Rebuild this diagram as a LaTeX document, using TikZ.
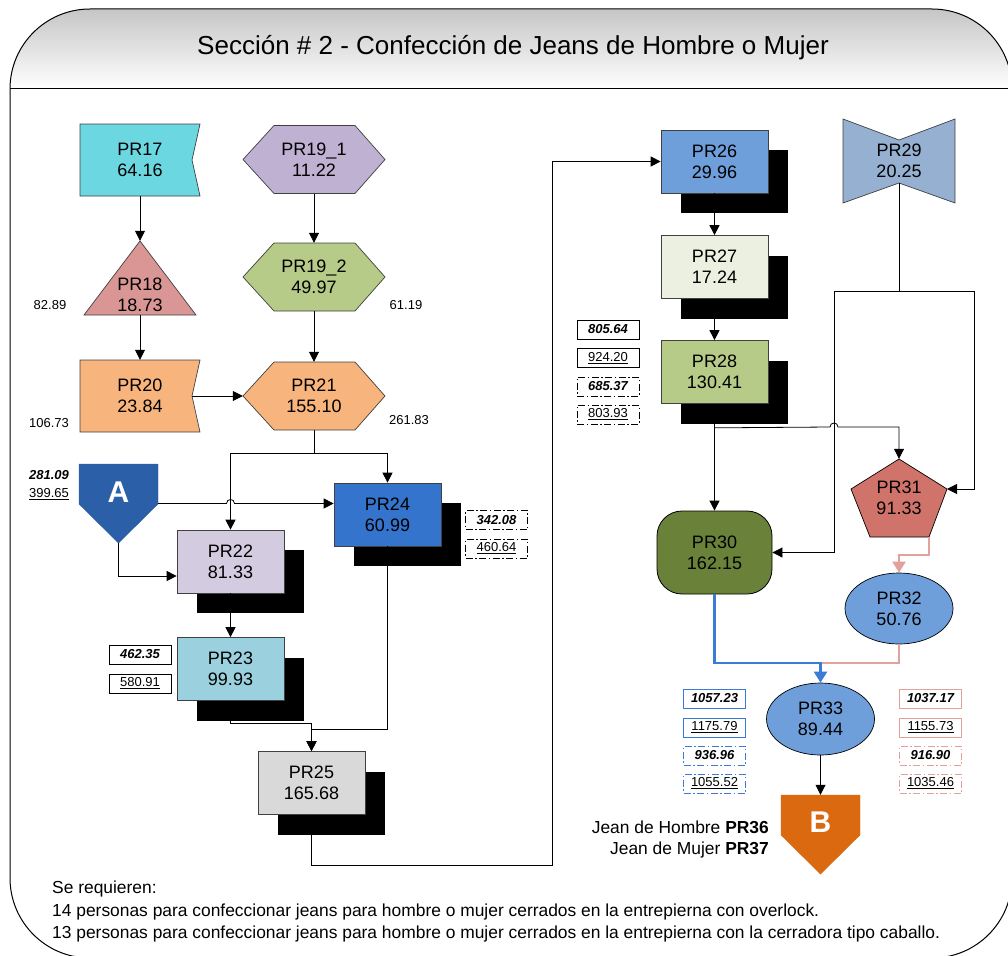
\documentclass[tikz,border=0pt]{standalone}
\usepackage{fontspec}
\setmainfont{Liberation Sans}
\usetikzlibrary{arrows.meta,calc,shapes.geometric,shadows}
\definecolor{c17}{HTML}{6BD7E0}
\definecolor{c19a}{HTML}{BFB1D1}
\definecolor{c18}{HTML}{D99694}
\definecolor{c19b}{HTML}{B6CB87}
\definecolor{c20}{HTML}{F8B47D}
\definecolor{cA}{HTML}{2B5FA8}
\definecolor{c22}{HTML}{D3CCE1}
\definecolor{c23}{HTML}{9BD1DF}
\definecolor{c24}{HTML}{3474CC}
\definecolor{c25}{HTML}{D9D9D9}
\definecolor{c26}{HTML}{6E9FDA}
\definecolor{c27}{HTML}{EBF0E0}
\definecolor{c29}{HTML}{96B0D1}
\definecolor{c30}{HTML}{6A8139}
\definecolor{c31}{HTML}{D0736B}
\definecolor{c32}{HTML}{6F9FDA}
\definecolor{cB}{HTML}{DA690F}
\definecolor{pinkl}{HTML}{E3A09D}
\definecolor{bluel}{HTML}{3A7BD5}
\definecolor{edge}{HTML}{404040}
\newcommand{\hexshape}[3]{\filldraw[shp,fill=#3] (#1,#2) ++(-71,0) -- ++(31,-34) -- ++(81,0) -- ++(30,34) -- ++(-30,34) -- ++(-81,0) -- cycle;}
\newcommand{\flagshape}[3]{\filldraw[shp,fill=#3] (#1,#2) ++(-60,-36) -- ++(120,0) -- ++(-8,36) -- ++(8,36) -- ++(-120,0) -- cycle;}
\begin{document}
\begin{tikzpicture}[x=1pt,y=-1pt,
  shp/.style={draw=edge,line width=0.7pt},
  txt/.style={font=\fontsize{18}{21}\selectfont,align=center,inner sep=0pt},
  sq/.style={txt,draw=edge,line width=0.7pt,minimum width=107pt,minimum height=63pt,
    general shadow={fill=black,shadow xshift=20pt,shadow yshift=-20pt}},
  conn/.style={line width=0.8pt,-{Triangle[length=10pt,width=10pt]}},
  plain/.style={line width=0.8pt},
  num/.style={font=\fontsize{13}{15}\selectfont,inner sep=0pt},
  bx/.style={draw,line width=1pt,minimum width=62pt,minimum height=19pt,inner sep=0pt,font=\fontsize{13}{15}\selectfont},
  dd/.style={dash pattern=on 7pt off 2.5pt on 1.5pt off 2.5pt},
  bi/.style={font=\fontsize{13}{15}\selectfont\bfseries\itshape},
  big/.style={font=\fontsize{30}{34}\selectfont\bfseries,text=white,inner sep=0pt},
  foot/.style={anchor=base west,inner sep=0pt,font=\fontsize{17.4}{20}\selectfont}
]
\useasboundingbox (0,0) rectangle (1008,955);
\clip (0,0) rectangle (1008,955);
% frame
\begin{scope}
\clip[rounded corners=80pt] (10,9) rectangle (1012,958);
\shade[top color=gray!50,bottom color=white] (0,0) rectangle (1012,89);
\end{scope}
\draw[line width=1pt,rounded corners=80pt] (10,9) rectangle (1012,958);
\draw[line width=1pt] (10,89) -- (1012,89);
\node[font=\fontsize{26}{30}\selectfont] (title) at (513,48) {Sección \# 2 - Confección de Jeans de Hombre o Mujer};

% left column shapes
\flagshape{140}{160}{c17}
\node[txt,minimum width=120pt,minimum height=72pt] (pr17) at (140,160) {PR17\\64.16};
\filldraw[shp,fill=c18] (140,241) -- (196,315) -- (84,315) -- cycle;
\node[minimum width=112pt,minimum height=74pt,inner sep=0pt,label={[txt,yshift=-17pt]center:{PR18\\18.73}}] (pr18) at (140,278) {};
\flagshape{140}{396}{c20}
\node[txt,minimum width=120pt,minimum height=72pt] (pr20) at (140,396) {PR20\\23.84};
\hexshape{314}{159.5}{c19a}
\node[txt,minimum width=142pt,minimum height=68pt] (pr191) at (314,159.5) {PR19\_1\\11.22};
\hexshape{314}{277}{c19b}
\node[txt,minimum width=142pt,minimum height=68pt] (pr192) at (314,277) {PR19\_2\\49.97};
\hexshape{314}{396}{c20}
\node[txt,minimum width=142pt,minimum height=68pt] (pr21) at (314,396) {PR21\\155.10};

\node[num] (n8289) at (50,305) {82.89};
\node[num] (n6119) at (406,305) {61.19};
\node[num] (n10673) at (49,423) {106.73};
\node[num] (n26183) at (409,420) {261.83};

% A
\filldraw[fill=cA,draw=cA] (79,464) -- (158,464) -- (158,504) -- (118.5,543) -- (79,504) -- cycle;
\node[minimum width=79pt,minimum height=79pt,inner sep=0pt,label={[big,yshift=11pt]center:A}] (a) at (118.5,503.5) {};
\node[bi,inner sep=0pt] (n28109) at (49,475) {281.09};
\node[num] (n39965) at (49,494) {\underline{399.65}};

% boxes with shadow
\node[sq,fill=c22] (pr22) at (230.5,561.5) {PR22\\81.33};
\node[sq,fill=c23] (pr23) at (230.5,669) {PR23\\99.93};
\node[sq,fill=c24] (pr24) at (387.5,514.5) {PR24\\60.99};
\node[sq,fill=c25] (pr25) at (311.5,783) {PR25\\165.68};
\node[sq,fill=c26] (pr26) at (714.5,161.5) {PR26\\29.96};
\node[sq,fill=c27] (pr27) at (714.5,267) {PR27\\17.24};
\node[sq,fill=c19b] (pr28) at (714.5,372) {PR28\\130.41};

\node[bx] (b46235) at (140,654.5) {\bfseries\itshape 462.35};
\node[bx] (b58091) at (140,683.5) {\underline{580.91}};
\node[bx,dd] (b34208) at (496.5,520) {\bfseries\itshape 342.08};
\node[bx,dd] (b46064) at (496.5,548.5) {\underline{460.64}};
\node[bx] (b80564) at (608,329.5) {\bfseries\itshape 805.64};
\node[bx] (b92420) at (608,358) {\underline{924.20}};
\node[bx,dd] (b68537) at (608,386.5) {\bfseries\itshape 685.37};
\node[bx,dd] (b80393) at (608,414.5) {\underline{803.93}};

% right shapes
\filldraw[shp,fill=c29] (843,119) -- (899,140) -- (955,119) -- (955,203) -- (899,183) -- (843,203) -- cycle;
\node[txt,minimum width=112pt,minimum height=84pt] (pr29) at (899,161) {PR29\\20.25};
\node[txt,draw=black,line width=0.8pt,fill=c30,rounded corners=25pt,minimum width=115pt,minimum height=83pt] (pr30) at (714.5,552.5) {PR30\\162.15};
\filldraw[draw=black,line width=0.7pt,fill=c31] (899,459) -- (947,489) -- (929,537) -- (870,537) -- (851,489) -- cycle;
\node[txt,minimum width=96pt,minimum height=78pt] (pr31) at (899,498) {PR31\\91.33};
\node[txt,ellipse,draw=black,line width=0.7pt,fill=c32,minimum width=108pt,minimum height=71pt] (pr32) at (899,608.5) {PR32\\50.76};
\node[txt,ellipse,draw=black,line width=0.7pt,fill=c32,minimum width=108pt,minimum height=72pt] (pr33) at (820.5,719) {PR33\\89.44};

\node[bx,draw=bluel] (b105723) at (714.5,698.5) {\bfseries\itshape 1057.23};
\node[bx,draw=bluel] (b117579) at (714.5,727.5) {\underline{1175.79}};
\node[bx,draw=bluel,dd] (b93696) at (714.5,755.5) {\bfseries\itshape 936.96};
\node[bx,draw=bluel,dd] (b105552) at (714.5,783.5) {\underline{1055.52}};
\node[bx,draw=pinkl] (b103717) at (930.5,698.5) {\bfseries\itshape 1037.17};
\node[bx,draw=pinkl] (b115573) at (930.5,727.5) {\underline{1155.73}};
\node[bx,draw=pinkl,dd] (b91690) at (930.5,755.5) {\bfseries\itshape 916.90};
\node[bx,draw=pinkl,dd] (b103546) at (930.5,783.5) {\underline{1035.46}};

% B
\filldraw[fill=cB,draw=cB] (781,795) -- (860,795) -- (860,835) -- (820.5,874) -- (781,835) -- cycle;
\node[minimum width=79pt,minimum height=79pt,inner sep=0pt,label={[big,yshift=12pt]center:B}] (b) at (820.5,834.5) {};
\node[align=right,anchor=east,inner sep=0pt,font=\fontsize{17.4}{21}\selectfont] (jeans) at (769,839) {Jean de Hombre \textbf{PR36}\\Jean de Mujer \textbf{PR37}};

% connectors left
\draw[conn] (pr17.south) -- (pr18.north);
\draw[conn] (pr18.south) -- (pr20.north);
\draw[conn] (pr191.south) -- (pr192.north);
\draw[conn] (pr192.south) -- (pr21.north);
\draw[conn] ([xshift=-8pt]pr20.east) -- (pr21.west);
\coordinate (j1) at ($(pr21.south)+(0,23)$);
\draw[plain] (pr21.south) -- (j1);
\draw[conn] (j1) -| (pr22.north);
\draw[conn] (j1) -| (pr24.north);
\draw[conn] (a.east) -- (226.5,503.5) .. controls (226.5,498.2) and (234.5,498.2) .. (234.5,503.5) -- (a.east -| pr24.west);
\draw[conn] (a.south) |- ([yshift=-14.5pt]pr22.west);
\draw[conn] (pr22.south) -- (pr23.north);
\draw[conn] (pr23.south) -- ++(0,23) -| (pr25.north);
\draw[conn] (pr24.south) -- ++(0,183) -| (pr25.north);
\coordinate (j2) at (552,865);
\draw[conn] (pr25.south) |- (j2) |- (pr26.west);
% right connectors
\draw[conn] (pr26.south) -- (pr27.north);
\draw[conn] (pr27.south) -- (pr28.north);
\draw[conn] (pr28.south) -- (pr30.north);
\coordinate (j3) at ($(pr28.south)+(0,24)$);
\draw[conn] (j3) -- (830,427) .. controls (830,421.7) and (838,421.7) .. (838,427) -| (pr31.north);
\coordinate (j4) at (899,291);
\draw[plain] ([yshift=20pt]pr29.south) -- (j4);
\draw[conn] (j4) -| ($(pr30.east)+(62,0)$) -- (pr30.east);
\coordinate (p31e) at (947,489);
\draw[conn] (j4) -| (974,489) -- (p31e);
\draw[line width=2.2pt,pinkl,-{Triangle[length=11pt,width=13pt]}] ([xshift=30pt]pr31.south) -- ++(0,18) -| (pr32.north);
\coordinate (m) at (820.5,663);
\draw[line width=2.2pt,pinkl] (pr32.south) |- (m);
\draw[line width=2.2pt,bluel,-{Triangle[length=11pt,width=13pt]}] (pr30.south) |- (m) -- (pr33.north);
\draw[conn] (pr33.south) -- (b.north);

% bottom text
\node[foot] (t1) at (52,893) {Se requieren:};
\node[foot] (t2) at (52,916) {14 personas para confeccionar jeans para hombre o mujer cerrados en la entrepierna con overlock.};
\node[foot] (t3) at (52,938) {13 personas para confeccionar jeans para hombre o mujer cerrados en la entrepierna con la cerradora tipo caballo.};
\end{tikzpicture}
\end{document}
